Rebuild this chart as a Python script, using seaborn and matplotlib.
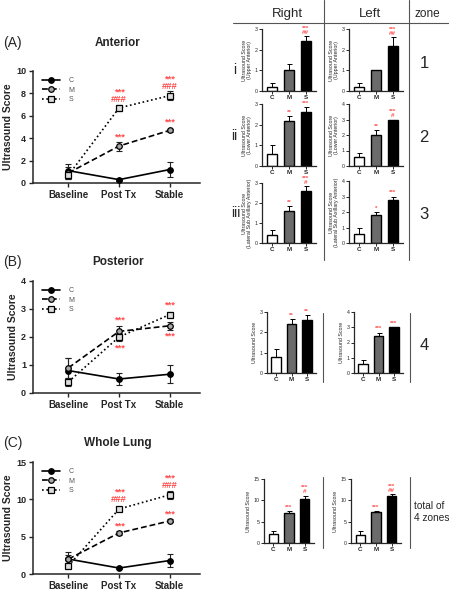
import numpy as np
import pandas as pd
import matplotlib
matplotlib.use("Agg")
import matplotlib.pyplot as plt
from matplotlib.lines import Line2D
import seaborn as sns

sns.set_theme(style="ticks")
plt.rcParams['font.family'] = ['Liberation Sans', 'DejaVu Sans']

# ---------------- data ----------------
timepoints = ["Baseline", "Post Tx", "Stable"]
groups = ["C", "M", "S"]

ant_C = [1.1, 0.3, 1.2];   ant_C_err = [0.6, 0.1, 0.65]
ant_M = [0.9, 3.3, 4.7];   ant_M_err = [0.5, 0.4, 0.15]
ant_S = [0.7, 6.7, 7.8];   ant_S_err = [0.3, 0.3, 0.4]

post_C = [0.8, 0.5, 0.67]; post_C_err = [0.45, 0.23, 0.33]
post_M = [0.9, 2.2, 2.4];  post_M_err = [0.35, 0.2, 0.15]
post_S = [0.4, 2.0, 2.8];  post_S_err = [0.15, 0.15, 0.1]

whole_C = [2.0, 0.8, 1.8];  whole_C_err = [0.9, 0.1, 0.9]
whole_M = [2.0, 5.5, 7.1];  whole_M_err = [0.5, 0.3, 0.2]
whole_S = [1.1, 8.7, 10.6]; whole_S_err = [0.2, 0.3, 0.5]

# annotations on line panels: (time index, y centre, text)
ant_annot = [(1, 7.75, "***\n###"), (1, 4.1, "***"),
             (2, 8.95, "***\n###"), (2, 5.4, "***")]
post_annot = [(1, 2.6, "***"), (1, 1.6, "***"), (2, 3.15, "***"), (2, 2.05, "***")]
whole_annot = [(1, 10.5, "***\n###"), (1, 6.4, "***"),
               (2, 12.4, "***\n###"), (2, 8.0, "***")]

# bar panels
z1_R = [0.2, 1.0, 2.4];  z1_R_err = [0.2, 0.33, 0.25]; z1_R_ann = ["", "", "***\n##"]
z1_L = [0.2, 1.0, 2.2];  z1_L_err = [0.2, 0.0, 0.4];   z1_L_ann = ["", "", "***\n##"]
z2_R = [0.6, 2.2, 2.6];  z2_R_err = [0.4, 0.2, 0.25];  z2_R_ann = ["", "**", "***"]
z2_L = [0.6, 2.0, 3.0];  z2_L_err = [0.25, 0.3, 0.0];  z2_L_ann = ["", "**", "***\n#"]
z3_R = [0.4, 1.6, 2.6];  z3_R_err = [0.25, 0.25, 0.25]; z3_R_ann = ["", "**", "***\n#"]
z3_L = [0.6, 1.8, 2.8];  z3_L_err = [0.4, 0.2, 0.2];   z3_L_ann = ["", "*", "***"]
z4_R = [0.8, 2.4, 2.6];  z4_R_err = [0.4, 0.25, 0.25]; z4_R_ann = ["", "**", "**"]
z4_L = [0.6, 2.4, 3.0];  z4_L_err = [0.25, 0.25, 0.0]; z4_L_ann = ["", "***", "***"]
tot_R = [2.0, 7.0, 10.2]; tot_R_err = [0.7, 0.4, 0.9]; tot_R_ann = ["", "***", "***\n#"]
tot_L = [1.8, 7.2, 11.0]; tot_L_err = [0.9, 0.3, 0.4]; tot_L_ann = ["", "***", "***\n##"]

# ---------------- figure ----------------
W, H = 449, 590
fig = plt.figure(figsize=(W / 100, H / 100), dpi=100)


def px_axes(l, t, r, b):
    return fig.add_axes([l / W, 1 - b / H, (r - l) / W, (b - t) / H])


def ftext(x, y, s, **kw):
    fig.text(x / W, 1 - y / H, s, **kw)


def line_panel(ax, C, Ce, M, Me, S, Se, ymax, yticks, annots):
    styles = [("C", C, Ce, "-", "o", "black"),
              ("M", M, Me, (0, (3.5, 1.8)), "o", "#a8a8a8"),
              ("S", S, Se, (0, (1, 1.6)), "s", "#dcdcdc")]
    for lab, v, e, ls, mk, fc in styles:
        ax.errorbar(timepoints, v, yerr=e, fmt="none", ecolor="#222222",
                    elinewidth=0.8, capsize=2.5, capthick=0.8, zorder=2)
        sns.lineplot(x=timepoints, y=v, ax=ax, color="black", linestyle=ls,
                     marker=mk, markersize=4, markerfacecolor=fc,
                     markeredgecolor="black", markeredgewidth=0.9,
                     lw=1.2, label=lab, zorder=3, errorbar=None)
    ax.set_xlim(-0.7, 2.6)
    ax.set_ylim(0, ymax)
    ax.set_yticks(yticks)
    ax.set_xlabel("")
    ax.set_ylabel("Ultrasound Score", fontsize=7.5, fontweight="bold", labelpad=2)
    ax.tick_params(axis="both", length=3, width=1, pad=2)
    ax.tick_params(axis="y", labelsize=6.5)
    ax.tick_params(axis="x", labelsize=7)
    for t in ax.get_xticklabels() + ax.get_yticklabels():
        t.set_fontweight("bold")
    for sp in ["left", "bottom"]:
        ax.spines[sp].set_linewidth(1.1)
    sns.despine(ax=ax)
    for xi, y, s in annots:
        ax.text(xi, y, s, color="#ff4d4d", fontsize=6.8, ha="center",
                va="center", fontweight="bold", linespacing=0.8)
    leg = ax.legend(loc="upper left", bbox_to_anchor=(0.03, 0.98), frameon=False,
                    fontsize=5, handlelength=2.6, labelspacing=0.35,
                    handletextpad=1.2, borderaxespad=0.2)
    for t in leg.get_texts():
        t.set_color("#555555")


def bar_panel(ax, vals, errs, ymax, yticks, ylabel, annots):
    sns.barplot(x=groups, y=vals, hue=groups,
                palette={"C": "white", "M": "#6b6b6b", "S": "black"},
                edgecolor="black", linewidth=1.0, width=0.62, legend=False,
                errorbar=None, ax=ax)
    ax.errorbar(groups, vals, yerr=[np.zeros(3), errs], fmt="none",
                ecolor="black", elinewidth=0.7, capsize=1.8, capthick=0.7)
    ax.set_xlim(-0.6, 2.6)
    ax.set_ylim(0, ymax)
    ax.set_yticks(yticks)
    ax.set_xlabel("")
    ax.set_ylabel(ylabel, fontsize=3.8, labelpad=1.5, linespacing=1.1)
    ax.tick_params(axis="both", length=2, width=0.7, pad=1.2)
    ax.tick_params(axis="y", labelsize=3.8)
    ax.tick_params(axis="x", labelsize=4.5)
    for t in ax.get_xticklabels():
        t.set_fontweight("bold")
    for sp in ["left", "bottom"]:
        ax.spines[sp].set_linewidth(0.9)
    sns.despine(ax=ax)
    for i, s in enumerate(annots):
        if s:
            ax.text(i, vals[i] + errs[i] + ymax * 0.02, s, color="#ff4d4d",
                    fontsize=4.5, ha="center", va="bottom", fontweight="bold",
                    linespacing=0.75)


# ---- left line panels ----
axA = px_axes(33, 71, 200, 183)
line_panel(axA, ant_C, ant_C_err, ant_M, ant_M_err, ant_S, ant_S_err,
           10, [0, 2, 4, 6, 8, 10], ant_annot)
axB = px_axes(33, 281, 200, 393)
line_panel(axB, post_C, post_C_err, post_M, post_M_err, post_S, post_S_err,
           4, [0, 1, 2, 3, 4], post_annot)
axC = px_axes(33, 462, 200, 574)
line_panel(axC, whole_C, whole_C_err, whole_M, whole_M_err, whole_S, whole_S_err,
           15, [0, 5, 10, 15], whole_annot)

for lab, title, y in [("(A)", "Anterior", 43), ("(B)", "Posterior", 262),
                      ("(C)", "Whole Lung", 443)]:
    ftext(3, y, lab, fontsize=10, va="center", ha="left")
    ftext(118, y, title, fontsize=8.5, fontweight="bold", va="center", ha="center")

# ---- right bar panels ----
def bar_pair(tR, bR, lR, rR, tL, bL, lL, rL, R, Re, Ra, L, Le, La, ymR, ytR, ymL, ytL, ylab):
    axr = px_axes(lR, tR, rR, bR)
    bar_panel(axr, R, Re, ymR, ytR, ylab, Ra)
    axl = px_axes(lL, tL, rL, bL)
    bar_panel(axl, L, Le, ymL, ytL, ylab, La)

bar_pair(29, 91, 262, 316, 29, 91, 349, 403, z1_R, z1_R_err, z1_R_ann,
         z1_L, z1_L_err, z1_L_ann, 3, [0, 1, 2, 3], 3, [0, 1, 2, 3],
         "Ultrasound Score\n(Upper Anterior)")
bar_pair(104, 166, 262, 316, 104, 166, 349, 403, z2_R, z2_R_err, z2_R_ann,
         z2_L, z2_L_err, z2_L_ann, 3, [0, 1, 2, 3], 4, [0, 1, 2, 3, 4],
         "Ultrasound Score\n(Lower Anterior)")
bar_pair(183, 243, 262, 316, 181, 243, 349, 403, z3_R, z3_R_err, z3_R_ann,
         z3_L, z3_L_err, z3_L_ann, 3, [0, 1, 2, 3], 4, [0, 1, 2, 3, 4],
         "Ultrasound Score\n(Lateral Sub Axillary Anterior)")
bar_pair(312, 373, 267, 316, 312, 373, 354, 403, z4_R, z4_R_err, z4_R_ann,
         z4_L, z4_L_err, z4_L_ann, 3, [0, 1, 2, 3], 4, [0, 1, 2, 3, 4],
         "Ultrasound Score")
bar_pair(479, 543, 264, 314, 479, 543, 351, 401, tot_R, tot_R_err, tot_R_ann,
         tot_L, tot_L_err, tot_L_ann, 15, [0, 5, 10, 15], 15, [0, 5, 10, 15],
         "Ultrasound Score")

# header and dividers
lc = "#555555"
def fline(x0, y0, x1, y1):
    fig.add_artist(Line2D([x0 / W, x1 / W], [1 - y0 / H, 1 - y1 / H],
                          color=lc, lw=0.8, transform=fig.transFigure))

fline(233, 23, 449, 23)
fline(324, 0, 324, 260)
fline(409, 0, 409, 260)
fline(323, 313, 323, 382)
fline(410, 313, 410, 382)
fline(323, 477, 323, 548)
fline(410, 477, 410, 548)

ftext(287, 14, "Right", fontsize=9.5, ha="center", va="center")
ftext(370, 14, "Left", fontsize=9.5, ha="center", va="center")
ftext(427, 14, "zone", fontsize=8.5, ha="center", va="center")

ftext(233, 70, "i", fontsize=10, ha="left", va="center")
ftext(231, 136, "ii", fontsize=10, ha="left", va="center")
ftext(231, 213, "iii", fontsize=10, ha="left", va="center")

ftext(424, 63, "1", fontsize=12, ha="center", va="center")
ftext(424, 138, "2", fontsize=12, ha="center", va="center")
ftext(424, 214, "3", fontsize=12, ha="center", va="center")
ftext(424, 346, "4", fontsize=12, ha="center", va="center")
ftext(414, 512, "total of\n4 zones", fontsize=7.3, ha="left", va="center",
      linespacing=1.15)

fig.savefig("out.png", dpi=100)
